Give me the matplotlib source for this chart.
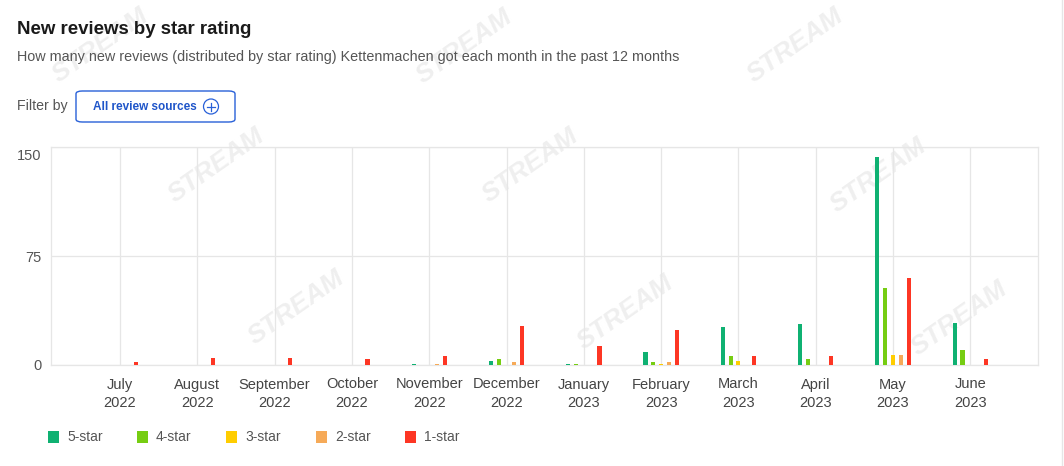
import numpy as np
import matplotlib
matplotlib.use("Agg")
import matplotlib.pyplot as plt
import matplotlib.transforms as mtransforms
from matplotlib.patches import FancyBboxPatch, Rectangle, Ellipse

plt.rcParams['font.family'] = ['Liberation Sans', 'DejaVu Sans']

months = ["July\n2022", "August\n2022", "September\n2022", "October\n2022",
          "November\n2022", "December\n2022", "January\n2023", "February\n2023",
          "March\n2023", "April\n2023", "May\n2023", "June\n2023"]
ratings = ["5-star", "4-star", "3-star", "2-star", "1-star"]
colors = ["#0fb172", "#76cd12", "#ffcd00", "#f6aa58", "#fd3624"]

five_star = [0, 0, 0, 0, 1, 3, 1, 9, 26, 28, 143, 29]
four_star = [0, 0, 0, 0, 0, 4, 1, 2, 6, 4, 53, 10]
three_star = [0, 0, 0, 0, 0, 0, 0, 1, 3, 0, 7, 0]
two_star = [0, 0, 0, 0, 1, 2, 0, 2, 0, 0, 7, 0]
one_star = [2, 5, 5, 4, 6, 27, 13, 24, 6, 6, 60, 4]
series = [five_star, four_star, three_star, two_star, one_star]

W, H = 1064, 466
fig = plt.figure(figsize=(W / 100, H / 100), dpi=100)

def fx(px):
    return px / W

def fy(py):
    return 1 - py / H

# faint watermarks
marks = [(100, 45), (464, 46), (795, 45), (216, 165), (530, 165), (878, 175),
         (296, 307), (625, 312), (959, 318)]
for mx, my in marks:
    fig.text(fx(mx), fy(my), "STREAM", fontsize=19, fontweight="bold", style="italic",
             color="#efefef", rotation=35, ha="center", va="center", zorder=-5)

ax = fig.add_axes([fx(51), fy(365), fx(1038) - fx(51), fy(147) - fy(365)])
ax.set_facecolor("none")

x = np.arange(len(months))
width = 0.054
for i, (vals, c, lab) in enumerate(zip(series, colors, ratings)):
    ax.bar(x + (i - 2) * 0.101, vals, width, color=c, label=lab, zorder=3)

ax.set_xlim(-0.893, 11.876)
ax.set_ylim(0, 150)
ax.set_yticks([0, 75, 150])
ax.set_xticks(x)
ax.set_xticklabels(months, linespacing=1.4)
ax.tick_params(axis="x", length=0, pad=9, labelsize=10.5, labelcolor="#444444")
ax.tick_params(axis="y", length=0, pad=7, labelsize=10.5, labelcolor="#555555")
ax.grid(True, color="#e6e6e6", linewidth=0.9, zorder=0)
for s in ax.spines.values():
    s.set_color("#e6e6e6")
    s.set_linewidth(0.9)

# top y label sits a little below its grid line
fig.canvas.draw()
top_lab = ax.get_yticklabels()[-1]
top_lab.set_transform(top_lab.get_transform() +
                      mtransforms.ScaledTranslation(0, -8 / 100, fig.dpi_scale_trans))

# header
fig.text(fx(17), fy(30), "New reviews by star rating", fontsize=13.4, fontweight="bold",
         color="#1a1a1a", va="center")
fig.text(fx(17), fy(57), "How many new reviews (distributed by star rating) Kettenmachen got "
         "each month in the past 12 months", fontsize=10.4, color="#555555", va="center")
fig.text(fx(17), fy(106), "Filter by", fontsize=10.2, color="#555555", va="center")

btn = FancyBboxPatch((fx(76), fy(122)), fx(235) - fx(76), fy(91) - fy(122),
                     boxstyle="round,pad=0,rounding_size=0.006",
                     transform=fig.transFigure, facecolor="white",
                     edgecolor="#2860d8", linewidth=1.0)
fig.patches.append(btn)
fig.text(fx(93), fy(106.5), "All review sources", fontsize=8.5, fontweight="bold",
         color="#1f55c9", va="center")
cx, cy = 211, 106.5
fig.patches.append(Ellipse((fx(cx), fy(cy)), 15 / W, 15 / H, transform=fig.transFigure,
                           facecolor="none", edgecolor="#2860d8", linewidth=0.9))
fig.add_artist(plt.Line2D([fx(cx - 4), fx(cx + 4)], [fy(cy), fy(cy)],
                          color="#2860d8", linewidth=0.9))
fig.add_artist(plt.Line2D([fx(cx), fx(cx)], [fy(cy - 4), fy(cy + 4)],
                          color="#2860d8", linewidth=0.9))

# legend
leg_x = [48, 137, 226, 316, 405]
for lx, c, lab in zip(leg_x, colors, ratings):
    fig.patches.append(Rectangle((fx(lx), fy(443)), 11 / W, 12 / H,
                                 transform=fig.transFigure, facecolor=c, edgecolor="none"))
    fig.text(fx(lx + 19), fy(437), lab, fontsize=10, color="#555555", va="center")

# card edge
fig.add_artist(plt.Line2D([fx(1062), fx(1062)], [0, 1], color="#e6e6e6", linewidth=1))

fig.savefig("out.png", dpi=100, facecolor="white")
